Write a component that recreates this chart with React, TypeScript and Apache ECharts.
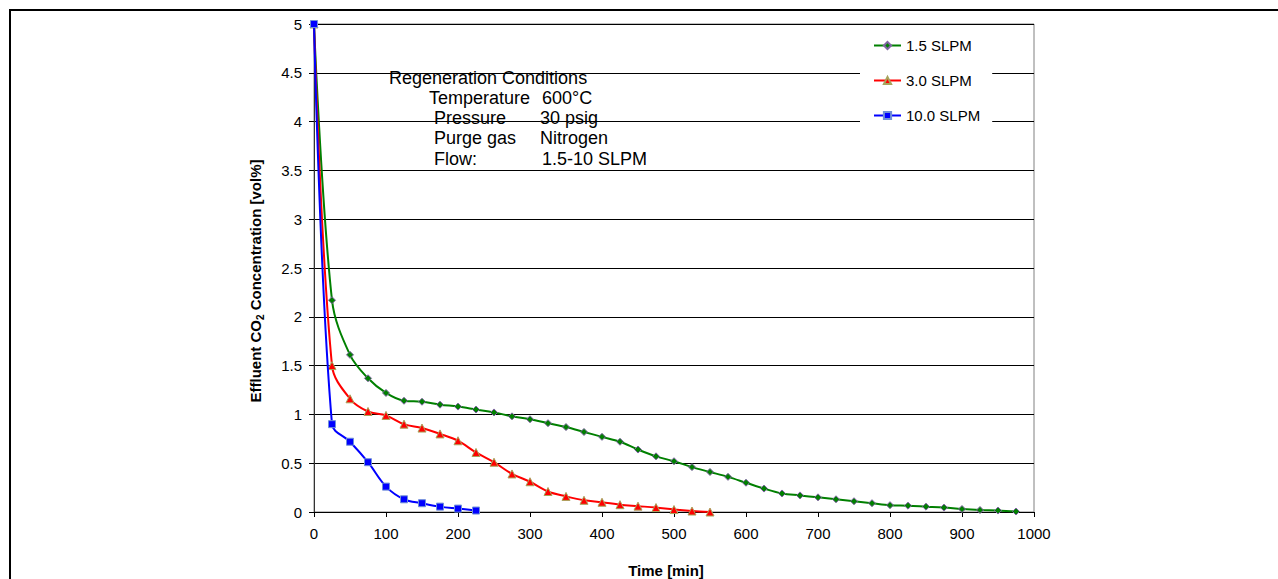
import React, { useEffect, useRef } from "react";
import * as echarts from "echarts";

// Sampling times [min] shared by all runs
const times = [
  0, 25, 50, 75, 100, 125, 150, 175, 200, 225, 250, 275, 300, 325, 350, 375, 400, 425, 450, 475,
  500, 525, 550, 575, 600, 625, 650, 675, 700, 725, 750, 775, 800, 825, 850, 875, 900, 925, 950, 975,
];

// Effluent CO2 concentration [vol%] for each purge flow
const flow15 = [
  5, 2.17, 1.61, 1.37, 1.22, 1.14, 1.13, 1.1, 1.08, 1.05, 1.02, 0.98, 0.95, 0.91, 0.87, 0.82, 0.77,
  0.72, 0.64, 0.57, 0.52, 0.46, 0.41, 0.36, 0.3, 0.24, 0.19, 0.17, 0.15, 0.13, 0.11, 0.09, 0.07,
  0.065, 0.055, 0.045, 0.03, 0.02, 0.015, 0.005,
];
const flow30 = [
  5, 1.5, 1.16, 1.03, 0.99, 0.9, 0.86, 0.8, 0.73, 0.61, 0.51, 0.39, 0.31, 0.21, 0.16, 0.12, 0.1,
  0.075, 0.06, 0.045, 0.025, 0.01, 0.0,
];
const flow100 = [5, 0.9, 0.72, 0.51, 0.26, 0.13, 0.09, 0.055, 0.035, 0.015];

const seriesNames = ["1.5 SLPM", "3.0 SLPM", "10.0 SLPM"];

// Regeneration conditions listed in the annotation box
const conditionsTitle = "Regeneration Conditions";
const conditions: [string, string][] = [
  ["Temperature", "600°C"],
  ["Pressure", "30 psig"],
  ["Purge gas", "Nitrogen"],
  ["Flow:", "1.5-10 SLPM"],
];

const FONT = "'Liberation Sans', Arial, Helvetica, sans-serif";

function pairs(values: number[]) {
  return values.map((v, i) => [times[i], v]);
}

export default function App() {
  const ref = useRef<HTMLDivElement>(null);

  useEffect(() => {
    if (!ref.current) return;
    const chart = echarts.init(ref.current, null, { renderer: "svg" });

    const condX = [
      [429, 542],
      [434, 540],
      [434, 540],
      [434, 542],
    ];
    const condFont = `18px ${FONT}`;
    const condTexts: any[] = [];
    condTexts.push({
      type: "text",
      x: 389,
      y: 78,
      style: { text: conditionsTitle, font: condFont, fill: "#000", verticalAlign: "middle" },
    });
    conditions.forEach(([label, value], i) => {
      const y = 98 + i * 20.2;
      condTexts.push({
        type: "text",
        x: condX[i][0],
        y,
        style: { text: label, font: condFont, fill: "#000", verticalAlign: "middle" },
      });
      condTexts.push({
        type: "text",
        x: condX[i][1],
        y,
        style: { text: value, font: condFont, fill: "#000", verticalAlign: "middle" },
      });
    });

    const option: any = {
      animation: false,
      backgroundColor: "#fff",
      textStyle: { fontFamily: FONT },
      grid: {
        left: 314,
        top: 24,
        width: 720,
        height: 488,
        show: true,
        borderColor: "#808080",
        borderWidth: 1,
        backgroundColor: "transparent",
        outerBoundsMode: "none",
      },
      legend: {
        orient: "vertical",
        left: 860,
        top: 30,
        padding: [8, 12, 8, 13],
        itemWidth: 27,
        itemHeight: 9,
        itemGap: 20,
        backgroundColor: "#fff",
        selectedMode: false,
        textStyle: { fontSize: 15, color: "#000", fontFamily: FONT },
        data: seriesNames,
      },
      xAxis: {
        type: "value",
        min: 0,
        max: 1000,
        interval: 100,
        axisLine: { show: true, lineStyle: { color: "#000", width: 1 } },
        axisTick: { show: true, length: 5, lineStyle: { color: "#000" } },
        axisLabel: {
          color: "#000",
          fontSize: 15,
          margin: 14,
          fontFamily: FONT,
          formatter: (v: number) => String(v),
        },
        splitLine: { show: false },
      },
      yAxis: {
        type: "value",
        min: 0,
        max: 5,
        interval: 0.5,
        axisLine: { show: true, lineStyle: { color: "#333", width: 1 } },
        axisTick: { show: true, length: 5, lineStyle: { color: "#000" } },
        axisLabel: {
          color: "#000",
          fontSize: 15,
          margin: 12,
          fontFamily: FONT,
          formatter: (v: number) => String(v),
        },
        splitLine: { show: true, lineStyle: { color: "#000", width: 1 } },
      },
      series: [
        {
          name: seriesNames[0],
          type: "line",
          data: pairs(flow15),
          smooth: 0.35,
          symbol: "diamond",
          symbolSize: 7,
          lineStyle: { color: "#008000", width: 2 },
          itemStyle: { color: "#008000", borderColor: "#8064a2", borderWidth: 1 },
          z: 3,
        },
        {
          name: seriesNames[1],
          type: "line",
          data: pairs(flow30),
          smooth: 0.35,
          symbol: "triangle",
          symbolSize: 8,
          lineStyle: { color: "#ff0000", width: 2 },
          itemStyle: { color: "#ff0000", borderColor: "#a8a45c", borderWidth: 1 },
          z: 4,
        },
        {
          name: seriesNames[2],
          type: "line",
          data: pairs(flow100),
          smooth: 0.35,
          symbol: "rect",
          symbolSize: 7,
          lineStyle: { color: "#0000ff", width: 2 },
          itemStyle: { color: "#0000ff", borderColor: "#7090d8", borderWidth: 1 },
          z: 5,
        },
      ],
      graphic: [
        // outer chart frame
        {
          type: "rect",
          shape: { x: 10, y: 10, width: 1400, height: 800 },
          style: { fill: "none", stroke: "#000", lineWidth: 2 },
          silent: true,
          z: 100,
        },
        // annotation box
        {
          type: "group",
          z: 50,
          children: [
            {
              type: "rect",
              shape: { x: 387, y: 61, width: 271, height: 117 },
              style: { fill: "#fff" },
            },
            ...condTexts,
          ],
        },
        // y-axis title
        {
          type: "text",
          x: 255,
          y: 281,
          rotation: Math.PI / 2,
          z: 50,
          style: {
            text: "{b|Effluent CO}{s|2}{b| Concentration [vol%]}",
            align: "center",
            verticalAlign: "middle",
            fill: "#000",
            rich: {
              b: { fontSize: 15, fontWeight: "bold", fontFamily: FONT, lineHeight: 20, fill: "#000" },
              s: {
                fontSize: 10,
                fontWeight: "bold",
                fontFamily: FONT,
                lineHeight: 10,
                verticalAlign: "bottom",
                fill: "#000",
              },
            },
          },
        },
        // x-axis title
        {
          type: "text",
          x: 666,
          y: 570,
          z: 50,
          style: {
            text: "Time [min]",
            font: `bold 15px ${FONT}`,
            fill: "#000",
            align: "center",
            verticalAlign: "middle",
          },
        },
      ],
    };

    chart.setOption(option);
    return () => chart.dispose();
  }, []);

  return (
    <div
      ref={ref}
      style={{ position: "fixed", left: 0, top: 0, width: 1278, height: 579, background: "#fff" }}
    />
  );
}
